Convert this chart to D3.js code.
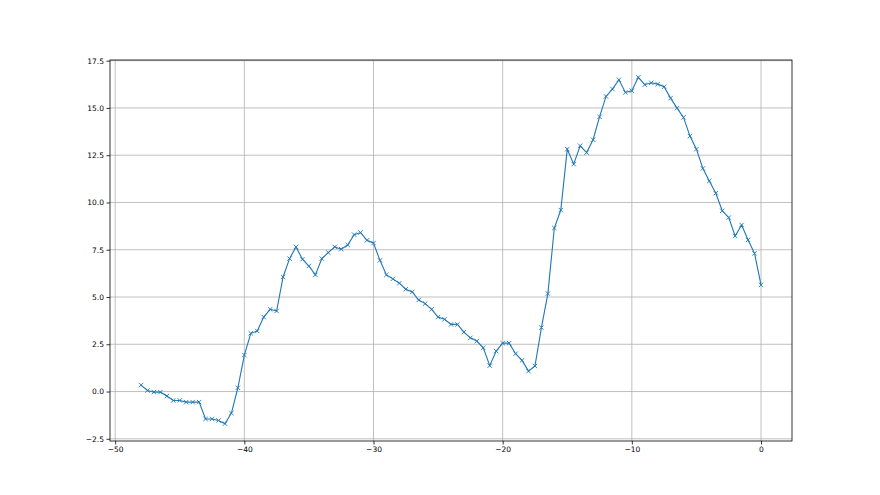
<!DOCTYPE html>
<html>
<head>
<meta charset="utf-8">
<script src="https://cdn.jsdelivr.net/npm/d3@7"></script>
<style>
  html, body { margin: 0; padding: 0; background: #fff; }
  svg { display: block; }
  .tick text { font-family: "DejaVu Sans", sans-serif; font-size: 7.5px; fill: #000; }
</style>
</head>
<body>
<svg id="chart"></svg>
<script>
// x positions: -48 .. 0 in steps of 0.5
const xValues = d3.range(-48, 0.001, 0.5);

// y values
const yValues = [
  0.34, 0.06, -0.03, -0.03, -0.24, -0.47, -0.47, -0.56, -0.56, -0.56,
  -1.45, -1.45, -1.53, -1.70, -1.14, 0.20, 1.93, 3.08, 3.20, 3.94,
  4.35, 4.26, 6.06, 7.03, 7.65, 7.00, 6.64, 6.17, 7.03, 7.35,
  7.65, 7.53, 7.75, 8.30, 8.41, 8.00, 7.85, 6.94, 6.17, 5.96,
  5.73, 5.41, 5.27, 4.84, 4.65, 4.35, 3.94, 3.82, 3.55, 3.55,
  3.14, 2.84, 2.67, 2.31, 1.37, 2.14, 2.56, 2.56, 2.00, 1.65,
  1.08, 1.35, 3.38, 5.18, 8.65, 9.60, 12.82, 12.03, 13.00, 12.64,
  13.32, 14.53, 15.61, 16.00, 16.49, 15.82, 15.91, 16.62, 16.23, 16.33,
  16.26, 16.12, 15.52, 14.99, 14.50, 13.51, 12.82, 11.80, 11.14, 10.49,
  9.56, 9.20, 8.23, 8.81, 8.02, 7.31, 5.64
];

const xTicks = [-50, -40, -30, -20, -10, 0];
const yTicks = [-2.5, 0, 2.5, 5, 7.5, 10, 12.5, 15, 17.5];

const width = 880;
const height = 495;
const margin = { top: 60, right: 88, bottom: 54, left: 110 };

const svg = d3.select('#chart')
  .attr('width', width)
  .attr('height', height);

const data = xValues.map((x, i) => ({ x: x, y: yValues[i] }));

// matplotlib-style 5% margins
const xExt = d3.extent(xValues);
const yExt = d3.extent(yValues);
const xPad = (xExt[1] - xExt[0]) * 0.05;
const yPad = (yExt[1] - yExt[0]) * 0.05;

const x = d3.scaleLinear()
  .domain([xExt[0] - xPad, xExt[1] + xPad])
  .range([margin.left, width - margin.right]);

const y = d3.scaleLinear()
  .domain([yExt[0] - yPad, yExt[1] + yPad])
  .range([height - margin.bottom, margin.top]);

const fmtMinus = d => d3.format('.1f')(d).replace('-', '\u2212');
const fmtX = d => String(d).replace('-', '\u2212');

// Grid lines
svg.append('g')
  .selectAll('line')
  .data(xTicks)
  .join('line')
  .attr('x1', d => x(d)).attr('x2', d => x(d))
  .attr('y1', margin.top).attr('y2', height - margin.bottom)
  .attr('stroke', '#b0b0b0').attr('stroke-width', 0.8);

svg.append('g')
  .selectAll('line')
  .data(yTicks)
  .join('line')
  .attr('x1', margin.left).attr('x2', width - margin.right)
  .attr('y1', d => y(d)).attr('y2', d => y(d))
  .attr('stroke', '#b0b0b0').attr('stroke-width', 0.8);

// Line
const line = d3.line().x(d => x(d.x)).y(d => y(d.y));
svg.append('path')
  .datum(data)
  .attr('fill', 'none')
  .attr('stroke', '#1f77b4')
  .attr('stroke-width', 1.1)
  .attr('d', line);

// 'x' markers
const m = 2.2;
const marks = svg.append('g')
  .attr('stroke', '#1f77b4')
  .attr('stroke-width', 0.9);
marks.selectAll('path')
  .data(data)
  .join('path')
  .attr('d', d => {
    const cx = x(d.x), cy = y(d.y);
    return `M${cx - m},${cy - m}L${cx + m},${cy + m}M${cx - m},${cy + m}L${cx + m},${cy - m}`;
  });

// Axes
const xAxis = svg.append('g')
  .attr('transform', `translate(0,${height - margin.bottom})`)
  .call(d3.axisBottom(x).tickValues(xTicks).tickFormat(fmtX).tickSize(3.5).tickPadding(2.5));

const yAxis = svg.append('g')
  .attr('transform', `translate(${margin.left},0)`)
  .call(d3.axisLeft(y).tickValues(yTicks).tickFormat(fmtMinus).tickSize(3.5).tickPadding(2.5));

[xAxis, yAxis].forEach(a => {
  a.select('.domain').remove();
  a.selectAll('.tick line').attr('stroke', '#000').attr('stroke-width', 0.8);
});

// Frame
svg.append('rect')
  .attr('x', margin.left)
  .attr('y', margin.top)
  .attr('width', width - margin.right - margin.left)
  .attr('height', height - margin.bottom - margin.top)
  .attr('fill', 'none')
  .attr('stroke', '#000')
  .attr('stroke-width', 0.8);
</script>
</body>
</html>
